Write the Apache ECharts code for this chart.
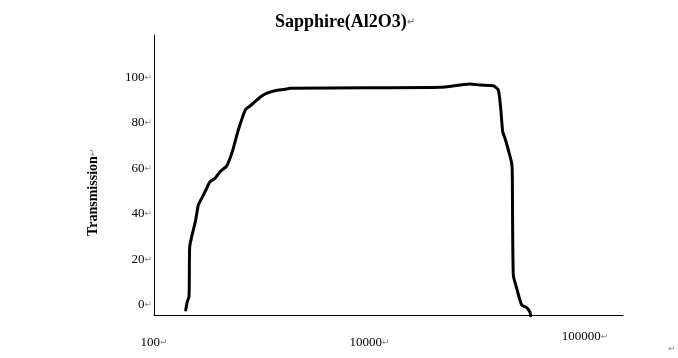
<!DOCTYPE html>
<html>
<head>
<meta charset="utf-8">
<script src="https://cdn.jsdelivr.net/npm/echarts@6/dist/echarts.min.js"></script>
<style>html,body{margin:0;padding:0;background:#fff;}#c{width:678px;height:358px;}</style>
</head>
<body>
<div id="c"></div>
<script>
// Tick labels
const xLabels = ['100', '10000', '100000'];
const yTicks = [0, 20, 40, 60, 80, 100];
// Curve: x position in label steps (0 = "100", 1 = "10000", 2 = "100000"), transmission values
const xPos = [0.1471,0.1545,0.1624,0.1638,0.1657,0.1749,0.1824,0.1935,0.2056,0.2213,0.2445,0.2599,0.2831,0.3063,0.3374,0.3527,0.3680,0.3805,0.3912,0.4037,0.4144,0.4255,0.4455,0.4687,0.4998,0.5304,0.5615,0.6079,0.6311,1.0023,1.3271,1.4200,1.4664,1.5128,1.5745,1.5977,1.6088,1.6181,1.6288,1.6441,1.6599,1.6626,1.6673,1.6831,1.7063,1.7295,1.7448,1.7480];
const transmission = [-2.33,1.32,3.52,10.87,25.52,29.92,32.87,37.27,43.87,46.82,51.22,54.12,55.62,58.52,61.03,64.42,68.82,73.22,76.87,80.52,83.47,85.98,87.43,89.33,91.83,93.29,94.17,94.78,95.22,95.48,95.66,96.67,97.11,96.67,96.37,94.47,86.42,76.12,73.22,68.07,62.22,57.07,13.07,7.22,-0.13,-1.32,-3.34,-4.84];

const chart = echarts.init(document.getElementById('c'), null, {renderer: 'canvas'});
const serif = '"Liberation Serif", "Times New Roman", serif';
const rich = {
  n: {fontFamily: serif, fontSize: 13, color: '#000'},
  r: {fontFamily: '"DejaVu Sans", sans-serif', fontSize: 9, color: '#888'}
};
const data = xPos.map((x, i) => [x, transmission[i]]);
const xMax = 2.1763;
chart.setOption({
  animation: false,
  title: {
    text: 'Sapphire(Al2O3){r|↵}',
    left: 340, top: 8, textAlign: 'center',
    textStyle: {fontFamily: serif, fontSize: 18, fontWeight: 'bold', color: '#000',
      rich: {r: {fontFamily: '"DejaVu Sans", sans-serif', fontSize: 10, color: '#888'}}}
  },
  grid: {left: 154, right: 55, top: 35, bottom: 42.3, containLabel: false},
  xAxis: [{
    type: 'value', min: 0, max: xMax,
    axisLine: {show: true, onZero: false, lineStyle: {color: '#000', width: 1}},
    axisTick: {show: false}, splitLine: {show: false},
    axisLabel: {customValues: [0, 1], margin: 20, hideOverlap: false,
      formatter: v => '{n|' + xLabels[Math.round(v)] + '}{r|↵}', rich: rich}
  }, {
    type: 'value', min: 0, max: xMax, position: 'bottom',
    axisLine: {show: false}, axisTick: {show: false}, splitLine: {show: false},
    axisLabel: {customValues: [2], margin: 14, hideOverlap: false,
      formatter: v => '{n|' + xLabels[Math.round(v)] + '}{r|↵}', rich: rich}
  }],
  yAxis: {
    type: 'value', min: -4.84, max: 118.68,
    name: 'Transmission{r|↵}', nameLocation: 'middle', nameRotate: 90, nameGap: 54,
    nameTextStyle: {fontFamily: serif, fontSize: 14, fontWeight: 'bold', color: '#000', padding: [0, 34, 0, 0],
      rich: {r: {fontFamily: '"DejaVu Sans", sans-serif', fontSize: 9, color: '#888', fontWeight: 'normal'}}},
    axisLine: {show: true, lineStyle: {color: '#000', width: 1}},
    axisTick: {show: false}, splitLine: {show: false},
    axisLabel: {customValues: yTicks, margin: 2,
      formatter: v => '{n|' + v + '}{r|↵}', rich: rich}
  },
  graphic: [{
    type: 'text', left: 668, top: 344,
    style: {text: '↵', font: '9px "DejaVu Sans"', fill: '#888'}
  }],
  series: [{
    type: 'line', data: data, xAxisIndex: 0, showSymbol: false, smooth: 0.2,
    lineStyle: {color: '#000', width: 3, cap: 'round', join: 'round'}
  }]
});
</script>
</body>
</html>
